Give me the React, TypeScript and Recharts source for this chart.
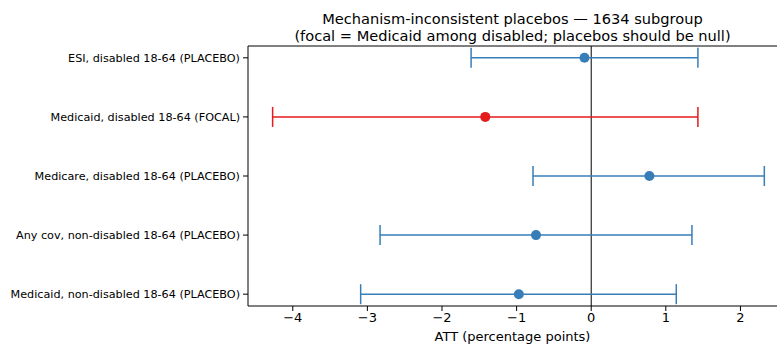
import React from 'react';
import { ScatterChart, Scatter, XAxis, YAxis, ErrorBar, ReferenceLine } from 'recharts';

const categories = [
  'ESI, disabled 18-64 (PLACEBO)',
  'Medicaid, disabled 18-64 (FOCAL)',
  'Medicare, disabled 18-64 (PLACEBO)',
  'Any cov, non-disabled 18-64 (PLACEBO)',
  'Medicaid, non-disabled 18-64 (PLACEBO)',
];
const estimates = [-0.09, -1.42, 0.78, -0.74, -0.97];
const lowerCI = [-1.61, -4.27, -0.78, -2.83, -3.09];
const upperCI = [1.43, 1.43, 2.32, 1.35, 1.14];
const isFocal = [false, true, false, false, false];
const xTicks = [-4, -3, -2, -1, 0, 1, 2];
const yTicks = [0, 1, 2, 3, 4];

const rows = categories.map((c, i) => ({
  y: i,
  x: estimates[i],
  err: [estimates[i] - lowerCI[i], upperCI[i] - estimates[i]],
  name: c,
}));
const placeboData = rows.filter((_, i) => !isFocal[i]);
const focalData = rows.filter((_, i) => isFocal[i]);

const BLUE = '#377eb8';
const RED = '#e41a1c';
const FONT = 'DejaVu Sans, sans-serif';

const fmtX = (v: number) => (v < 0 ? '\u2212' + Math.abs(v) : String(v));

const Dot = (props: any) => {
  const { cx, cy, fill } = props;
  return <circle cx={cx} cy={cy} r={5} fill={fill} />;
};

const YTick = (props: any) => {
  const { x, y, payload } = props;
  return (
    <text x={x} y={y} dy="0.35em" textAnchor="end" fill="#000" fontSize={11.2} fontFamily={FONT}>
      {categories[payload.value] ?? ''}
    </text>
  );
};

export default function App() {
  return (
    <div style={{ position: 'absolute', left: 0, top: 0, width: 777, height: 347, background: '#fff', fontFamily: FONT }}>
      <div style={{ position: 'absolute', left: 248, width: 529, top: 10, textAlign: 'center', fontSize: 14.6, lineHeight: '17px', color: '#000' }}>
        Mechanism-inconsistent placebos — 1634 subgroup
        <br />
        (focal = Medicaid among disabled; placebos should be null)
      </div>
      <ScatterChart width={777} height={347} margin={{ top: 46, right: 0, bottom: 0, left: 0 }}>
        <XAxis
          type="number"
          dataKey="x"
          domain={[-4.6, 2.49]}
          ticks={xTicks}
          tickFormatter={fmtX}
          allowDataOverflow
          height={41}
          tickSize={5}
          tickMargin={2}
          stroke="#000"
          tick={{ fill: '#000', fontSize: 13, fontFamily: FONT }}
          label={{ value: 'ATT (percentage points)', position: 'insideBottom', offset: 6, fill: '#000', fontSize: 13, fontFamily: FONT }}
        />
        <YAxis
          type="number"
          dataKey="y"
          domain={[-0.2, 4.2]}
          reversed
          ticks={yTicks}
          width={248}
          tickSize={5}
          tickMargin={3}
          stroke="#000"
          tick={<YTick />}
        />
        <ReferenceLine y={-0.2} stroke="#000" strokeWidth={1} />
        <ReferenceLine x={0} stroke="#000" strokeWidth={1} />
        <Scatter data={placeboData} fill={BLUE} shape={<Dot />} isAnimationActive={false}>
          <ErrorBar dataKey="err" direction="x" width={10} stroke={BLUE} strokeWidth={1.5} />
        </Scatter>
        <Scatter data={focalData} fill={RED} shape={<Dot />} isAnimationActive={false}>
          <ErrorBar dataKey="err" direction="x" width={10} stroke={RED} strokeWidth={1.5} />
        </Scatter>
      </ScatterChart>
    </div>
  );
}
